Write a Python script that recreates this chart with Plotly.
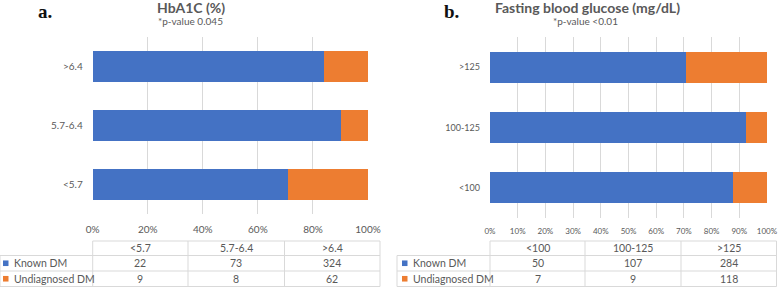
import plotly.graph_objects as go

W, H = 778, 287

# ---- data ----
hba_cats = ["<5.7", "5.7-6.4", ">6.4"]
hba_known = [22, 73, 324]
hba_undiag = [9, 8, 62]

fbg_cats = ["<100", "100-125", ">125"]
fbg_known = [50, 107, 284]
fbg_undiag = [7, 9, 118]

series_names = ["Known DM", "Undiagnosed DM"]
colors = ["#4472C4", "#ED7D31"]

hba_ticks = [0, 20, 40, 60, 80, 100]
fbg_ticks = [0, 10, 20, 30, 40, 50, 60, 70, 80, 90, 100]

FONT = "Lato"
GRAY = "#595959"
LINE = "#d9d9d9"


def px(x):
    return x / W


def py(y):
    return 1 - y / H


def pct(a, b):
    return [ai / (ai + bi) * 100 for ai, bi in zip(a, b)]


fig = go.Figure()

panels = [
    dict(cats=hba_cats, known=hba_known, undiag=hba_undiag, xa="x", ya="y",
         x0=92.7, x1=368, y0=37, y1=214, ticks=hba_ticks, tfs=10, yfs=10, st=8),
    dict(cats=fbg_cats, known=fbg_known, undiag=fbg_undiag, xa="x2", ya="y2",
         x0=490, x1=767, y0=37, y1=218, ticks=fbg_ticks, tfs=8, yfs=9, st=7),
]

for p in panels:
    kp = pct(p["known"], p["undiag"])
    up = [100 - v for v in kp]
    for name, vals, col in zip(series_names, [kp, up], colors):
        fig.add_trace(go.Bar(y=p["cats"], x=vals, orientation="h", name=name,
                             marker=dict(color=col, line=dict(width=0)),
                             xaxis=p["xa"], yaxis=p["ya"], showlegend=False,
                             hoverinfo="skip"))

layout = dict(
    width=W, height=H, margin=dict(l=0, r=0, t=0, b=0, pad=0, autoexpand=False),
    paper_bgcolor="white", plot_bgcolor="white",
    barmode="stack", bargap=0.49,
    font=dict(family=FONT, color=GRAY),
)
for i, p in enumerate(panels):
    sfx = "" if i == 0 else "2"
    layout["xaxis" + sfx] = dict(
        domain=[px(p["x0"]), px(p["x1"])], range=[0, 100], anchor="y" + sfx,
        tickvals=p["ticks"], ticktext=[f"{t}%" for t in p["ticks"]],
        showgrid=True, gridcolor=LINE, gridwidth=1, zeroline=False,
        showline=False, ticks="", tickfont=dict(size=p["tfs"], color=GRAY, family=FONT),
        ticklabelstandoff=p["st"], fixedrange=True, automargin=False)
    layout["yaxis" + sfx] = dict(
        domain=[py(p["y1"]), py(p["y0"])], anchor="x" + sfx, type="category",
        categoryorder="array", categoryarray=p["cats"],
        showgrid=False, zeroline=False, showline=False, ticks="",
        tickfont=dict(size=p["yfs"], color=GRAY, family=FONT),
        ticklabelstandoff=9, fixedrange=True, automargin=False)
fig.update_layout(**layout)

shapes = []
annots = []


def line(x0, y0, x1, y1):
    shapes.append(dict(type="line", xref="paper", yref="paper",
                       x0=px(x0), y0=py(y0), x1=px(x1), y1=py(y1),
                       line=dict(color=LINE, width=1)))


def text(x, y, s, size=10, color=GRAY, family=FONT, xanchor="center"):
    annots.append(dict(x=px(x), y=py(y), xref="paper", yref="paper", text=s,
                       showarrow=False, xanchor=xanchor, yanchor="middle",
                       font=dict(size=size, color=color, family=family)))


# titles
text(45, 12, "<b>a.</b>", size=19, color="#111111", family="Liberation Serif")
text(190.5, 8, "<b>HbA1C (%)</b>", size=14)
text(190, 21.5, "*p-value 0.045", size=10)
text(451, 12, "<b>b.</b>", size=19, color="#111111", family="Liberation Serif")
text(587, 8, "<b>Fasting blood glucose (mg/dL)</b>", size=14)
text(585, 21.5, "*p-value <0.01", size=10)

# tables
tables = [
    dict(lx=0, cols=[92.7, 188, 284.5, 380], cats=hba_cats,
         rows=[hba_known, hba_undiag], sq=3),
    dict(lx=397, cols=[490, 585, 681, 776.5], cats=fbg_cats,
         rows=[fbg_known, fbg_undiag], sq=402),
]
ty = [241, 255.5, 271, 286.5]
for t in tables:
    c = t["cols"]
    line(c[0], ty[0], c[-1], ty[0])
    for yy in ty[1:]:
        line(t["lx"], yy, c[-1], yy)
    for xx in c:
        line(xx, ty[0], xx, ty[-1])
    line(t["lx"], ty[1], t["lx"], ty[-1])
    for j, cat in enumerate(t["cats"]):
        text((c[j] + c[j + 1]) / 2, (ty[0] + ty[1]) / 2, cat, size=10.5)
    for r, (name, col, vals) in enumerate(zip(series_names, colors, t["rows"])):
        ym = (ty[r + 1] + ty[r + 2]) / 2
        shapes.append(dict(type="rect", xref="paper", yref="paper",
                           x0=px(t["sq"]), x1=px(t["sq"] + 5.5),
                           y0=py(ym + 2.8), y1=py(ym - 2.8),
                           fillcolor=col, line=dict(width=0)))
        text(t["sq"] + 9, ym, name, size=10.5, xanchor="left")
        for j, v in enumerate(vals):
            text((c[j] + c[j + 1]) / 2, ym, str(v), size=10.5)

fig.update_layout(shapes=shapes, annotations=annots)
fig.write_html("out.html", config={"displayModeBar": False},
               post_script="document.body.style.margin='0';")
